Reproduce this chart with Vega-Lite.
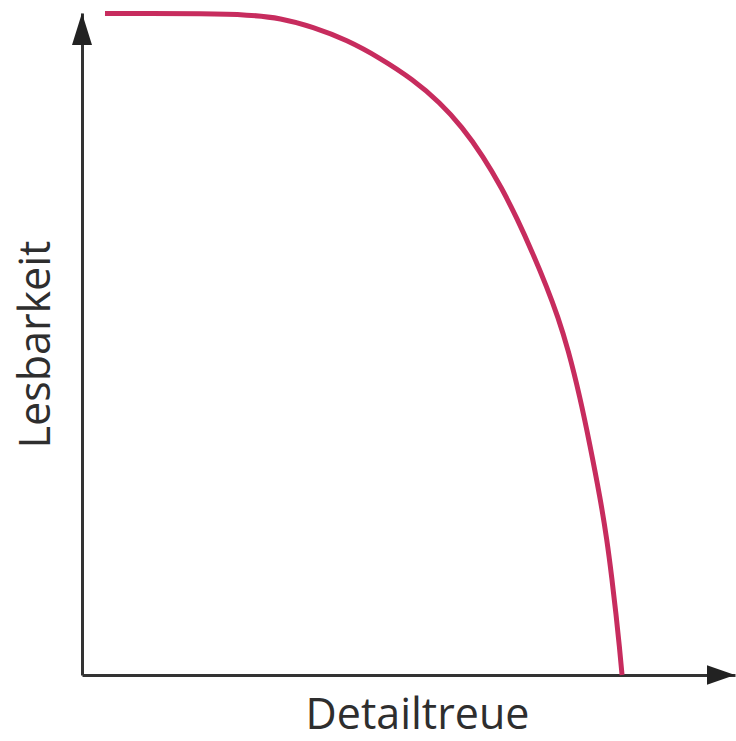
{
  "$schema": "https://vega.github.io/schema/vega-lite/v6.json",
  "width": 653,
  "height": 662,
  "autosize": {"type": "none"},
  "padding": {"left": 82, "top": 13, "right": 1, "bottom": 66},
  "background": "white",
  "config": {
    "view": {"stroke": null},
    "axis": {
      "ticks": false,
      "labels": false,
      "grid": false,
      "domain": true,
      "domainColor": "#333333",
      "domainWidth": 3,
      "titleFont": "Open Sans",
      "titleFontWeight": "normal",
      "titleFontSize": 43,
      "titleColor": "#2e2e2e"
    }
  },
  "datasets": {
    "curve": [
      {"x": 3.52, "y": 99.92},
      {"x": 10.41, "y": 99.92},
      {"x": 18.07, "y": 99.89},
      {"x": 25.73, "y": 99.73},
      {"x": 30.32, "y": 99.24},
      {"x": 35.38, "y": 97.89},
      {"x": 40.58, "y": 95.92},
      {"x": 45.64, "y": 93.2},
      {"x": 50.69, "y": 89.95},
      {"x": 54.82, "y": 86.48},
      {"x": 58.19, "y": 82.82},
      {"x": 61.41, "y": 78.4},
      {"x": 64.32, "y": 73.5},
      {"x": 66.62, "y": 68.97},
      {"x": 68.91, "y": 63.99},
      {"x": 71.21, "y": 58.55},
      {"x": 72.89, "y": 54.08},
      {"x": 74.43, "y": 49.24},
      {"x": 76.26, "y": 41.99},
      {"x": 77.79, "y": 34.74},
      {"x": 79.33, "y": 26.89},
      {"x": 80.4, "y": 20.39},
      {"x": 81.16, "y": 14.5},
      {"x": 81.78, "y": 9.21},
      {"x": 82.31, "y": 4.23},
      {"x": 82.7, "y": 0}
    ],
    "arrowUp": [{"x": 0, "y": 100}],
    "arrowRight": [{"x": 100, "y": 0}]
  },
  "layer": [
    {
      "data": {"name": "curve"},
      "mark": {"type": "line", "interpolate": "basis", "color": "#c72c5e", "strokeWidth": 5, "clip": false},
      "encoding": {
        "x": {"field": "x", "type": "quantitative", "scale": {"domain": [0, 100], "nice": false, "zero": false},
              "axis": {"title": "Detailtreue", "titlePadding": 19, "titleX": 335}},
        "y": {"field": "y", "type": "quantitative", "scale": {"domain": [0, 100], "nice": false, "zero": false},
              "axis": {"title": "Lesbarkeit", "titlePadding": 24}}
      }
    },
    {
      "data": {"name": "arrowUp"},
      "mark": {"type": "point", "shape": "M0,0L0.625,2L-0.625,2Z", "size": 1024, "filled": true, "color": "#222222", "opacity": 1, "strokeWidth": 0, "clip": false},
      "encoding": {
        "x": {"field": "x", "type": "quantitative"},
        "y": {"field": "y", "type": "quantitative"}
      }
    },
    {
      "data": {"name": "arrowRight"},
      "mark": {"type": "point", "shape": "M0,0L-2,-0.7L-2,0.7Z", "size": 784, "filled": true, "color": "#222222", "opacity": 1, "strokeWidth": 0, "clip": false},
      "encoding": {
        "x": {"field": "x", "type": "quantitative"},
        "y": {"field": "y", "type": "quantitative"}
      }
    }
  ]
}
